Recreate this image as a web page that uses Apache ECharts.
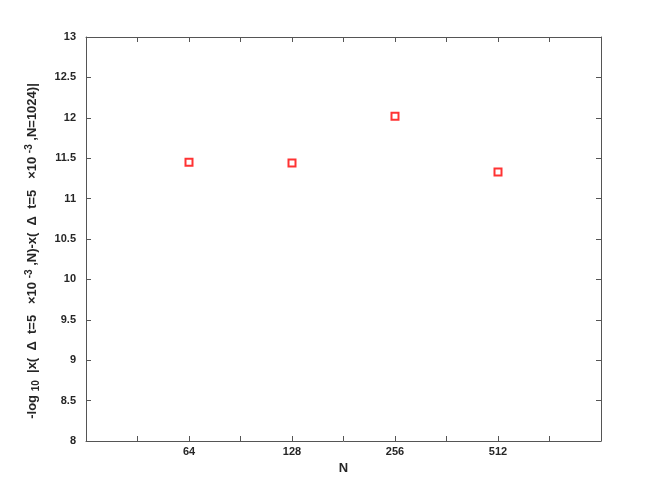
<!DOCTYPE html>
<html>
<head>
<meta charset="utf-8">
<script src="https://cdn.jsdelivr.net/npm/echarts@6/dist/echarts.min.js"></script>
<style>html,body{margin:0;padding:0;background:#fff}#c{width:664px;height:495px}</style>
</head>
<body>
<div id="c"></div>
<script>
const nValues = [64, 128, 256, 512];
const errValues = [11.45, 11.44, 12.02, 11.33];
const xTickLabels = ['64', '128', '256', '512'];

const chart = echarts.init(document.getElementById('c'), null, {renderer: 'canvas'});
const font = 'Liberation Sans, Arial, sans-serif';
const axisColor = '#555';
const textColor = '#262626';

const data = nValues.map((n, i) => [Math.log2(n), errValues[i]]);

chart.setOption({
  animation: false,
  backgroundColor: '#fff',
  grid: {left: 86, right: 63, top: 37, bottom: 54},
  xAxis: [{
    type: 'value', min: 5, max: 10, interval: 0.5,
    name: 'N', nameLocation: 'middle', nameGap: 20,
    nameTextStyle: {fontFamily: font, fontSize: 13, fontWeight: 'bold', color: textColor},
    axisLine: {lineStyle: {color: axisColor, width: 1}},
    axisTick: {inside: true, length: 5, lineStyle: {color: axisColor}},
    splitLine: {show: false},
    axisLabel: {
      fontFamily: font, fontSize: 11, fontWeight: 'bold', color: textColor, margin: 5,
      formatter: function (v) {
        const idx = nValues.findIndex(n => Math.abs(Math.log2(n) - v) < 1e-9);
        return idx >= 0 ? xTickLabels[idx] : '';
      }
    }
  }, {
    type: 'value', position: 'top', min: 5, max: 10, interval: 0.5,
    axisLine: {show: true, lineStyle: {color: axisColor, width: 1}},
    axisTick: {inside: true, length: 5, lineStyle: {color: axisColor}},
    axisLabel: {show: false}, splitLine: {show: false}
  }],
  yAxis: [{
    type: 'value', min: 8, max: 13, interval: 0.5,
    name: '{t|-log }{s|10}{t|  |x(  Δ  t=5   ×10 }{p|-3}{t| ,N)-x(  Δ  t=5   ×10 }{p|-3}{t| ,N=1024)|}{g|}',
    nameLocation: 'middle', nameRotate: 90, nameGap: 45,
    nameTextStyle: {
      rich: {
        t: {fontFamily: font, fontSize: 13, fontWeight: 'bold', color: textColor},
        s: {fontFamily: font, fontSize: 10, fontWeight: 'bold', color: textColor, verticalAlign: 'bottom', padding: [7, 0, 0, 0]},
        p: {fontFamily: font, fontSize: 10, fontWeight: 'bold', color: textColor, verticalAlign: 'top', padding: [0, 0, 7, 0]},
        g: {width: 24}
      }
    },
    axisLine: {show: true, lineStyle: {color: axisColor, width: 1}},
    axisTick: {inside: true, length: 5, lineStyle: {color: axisColor}},
    splitLine: {show: false},
    axisLabel: {fontFamily: font, fontSize: 11, fontWeight: 'bold', color: textColor, margin: 10}
  }, {
    type: 'value', position: 'right', min: 8, max: 13, interval: 0.5,
    axisLine: {show: true, lineStyle: {color: axisColor, width: 1}},
    axisTick: {inside: true, length: 5, lineStyle: {color: axisColor}},
    axisLabel: {show: false}, splitLine: {show: false}
  }],
  series: [{
    type: 'scatter',
    data: data,
    symbol: 'rect',
    symbolSize: 7,
    itemStyle: {color: '#fff', borderColor: '#ff0000', borderWidth: 2}
  }]
});
</script>
</body>
</html>
